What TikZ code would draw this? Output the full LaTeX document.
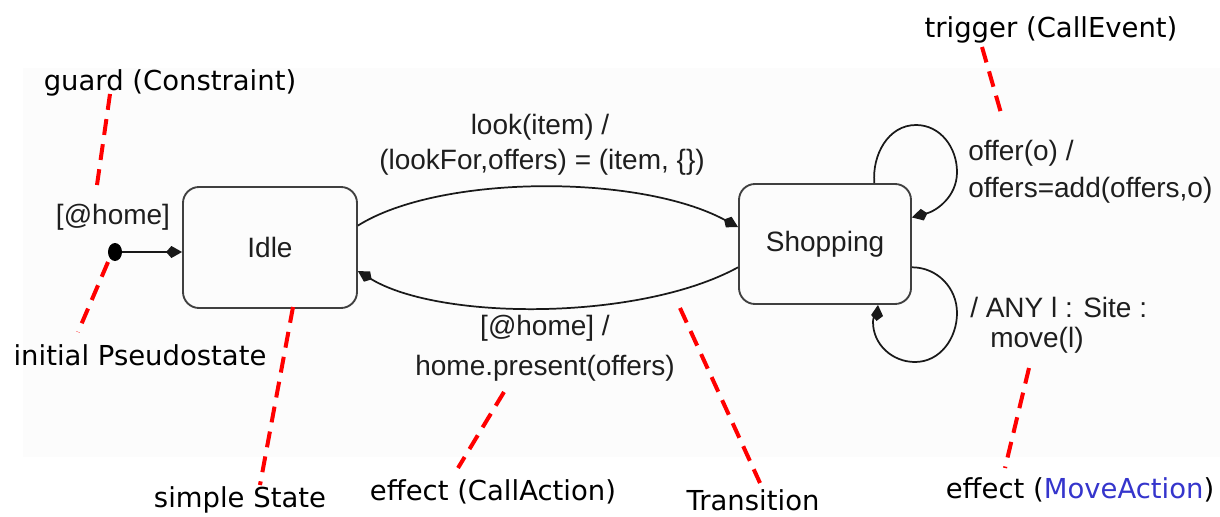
\documentclass[tikz,border=0pt]{standalone}
\usepackage{fontspec}
\setmainfont{Liberation Sans}
\newfontfamily\annfont{DejaVu Sans}
\usetikzlibrary{arrows.meta,shapes.geometric}
\definecolor{bgc}{HTML}{FCFCFC}
\definecolor{movec}{HTML}{3535CC}
\definecolor{txt}{HTML}{1E1E1E}
\begin{document}
\begin{tikzpicture}[x=0.75pt,y=-0.75pt,
  diag/.style={font=\fontsize{21}{25}\selectfont, text=txt, inner sep=0pt},
  ann/.style={font=\annfont\fontsize{20.6}{24}\selectfont, text=black, inner sep=0pt},
  state/.style={draw=black!75, line width=1.4pt, rounded corners=12pt, diag},
  trans/.style={line width=1.3pt, draw=black!90, -{Kite[length=12pt,width=9pt,inset=4pt]}},
  note/.style={draw=red, line width=3pt, dash pattern=on 12pt off 7pt}]
\useasboundingbox (0,0) rectangle (1220,517);
\fill[bgc] (23,68) rectangle (1220,457);

% states
\node[state, minimum width=130.5pt, minimum height=90.75pt] (idle) at (270,247.5) {Idle};
\node[state, minimum width=129pt, minimum height=90pt] (shop) at (825,244) {Shopping};
\node[fill=black, ellipse, minimum width=10.5pt, minimum height=13.5pt, inner sep=0pt] (init) at (115,252) {};

% transitions
\draw[trans] (init) -- (init -| idle.west);
\draw[trans] (idle.14) .. controls (440,174) and (640,174) .. (shop.169);
\draw[trans] (shop.195) .. controls (640,321) and (440,321) .. (idle.345);
\draw[trans] (shop.51) to[out=95,in=180] (916,125) to[out=0,in=90] (957,172) to[out=-90,in=15] (shop.17);
\draw[trans] (shop.345) to[out=0,in=90] (957,313) to[out=-90,in=0] (915,362) to[out=180,in=-90] (873,322) to[out=90,in=-95] (shop.311);

% transition labels
\node[diag] (lg) at (113,217) {[@home]};
\node[diag] (l1a) at (540,127) {look(item) /};
\node[diag] (l1b) at (542,162) {(lookFor,offers) = (item, \{\})};
\node[diag] (l2a) at (545,328) {[@home] /};
\node[diag] (l2b) at (545,368) {home.present(offers)};
\node[diag, anchor=west] (l3a) at (968,153) {offer(o) /};
\node[diag, anchor=west] (l3b) at (968,190) {offers=add(offers,o)};
\node[diag, anchor=west] (l4a) at (970,307) {/ ANY l : Site :};
\node[diag, anchor=west] (l4b) at (990,340) {move(l)};

% annotations
\node[ann] (aguard) at (170,83) {guard (Constraint)};
\node[ann] (atrig) at (1051,30) {trigger (CallEvent)};
\node[ann] (ainit) at (140,355) {initial Pseudostate};
\node[ann] (astate) at (240,500) {simple State};
\node[ann] (aeff1) at (493,492) {effect (CallAction)};
\node[ann] (atrans) at (753,500) {Transition};
\node[ann] (aeff2) at (1080,490) {effect (\textcolor{movec}{MoveAction})};

% annotation lines
\coordinate (g1) at (110,94);   \coordinate (g2) at (97,185);
\coordinate (i1) at (108,262);  \coordinate (i2) at (78,332);
\coordinate (s1) at (293,307);  \coordinate (s2) at (260,485);
\coordinate (e1) at (504,392);  \coordinate (e2) at (458,468);
\coordinate (t1) at (680,308);  \coordinate (t2) at (760,483);
\coordinate (r1) at (982,47);   \coordinate (r2) at (1003,120);
\coordinate (m1) at (1029,368); \coordinate (m2) at (1005,468);
\draw[note] (g1) -- (g2);
\draw[note] (i1) -- (i2);
\draw[note] (s1) -- (s2);
\draw[note] (e1) -- (e2);
\draw[note] (t1) -- (t2);
\draw[note] (r1) -- (r2);
\draw[note] (m1) -- (m2);
\end{tikzpicture}
\end{document}
